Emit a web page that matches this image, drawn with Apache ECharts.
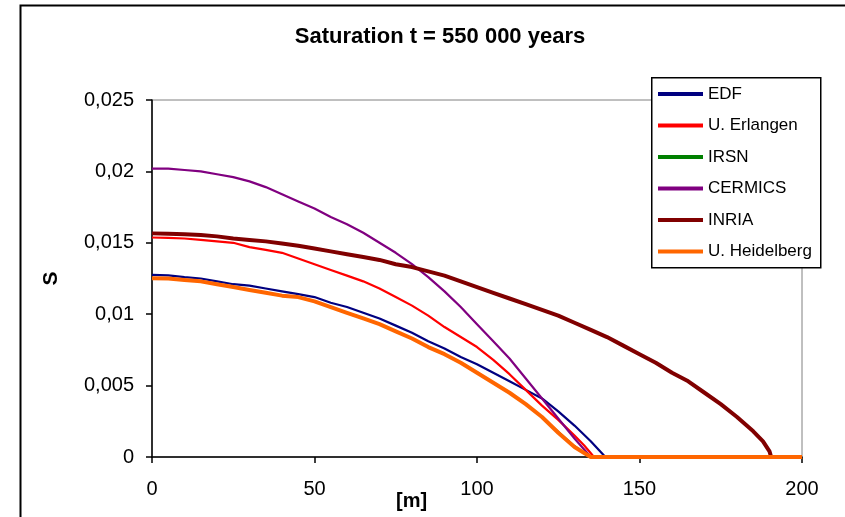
<!DOCTYPE html>
<html>
<head>
<meta charset="utf-8">
<script src="https://cdn.jsdelivr.net/npm/echarts@6/dist/echarts.min.js"></script>
<style>
html,body{margin:0;padding:0;background:#fff;}
#chart{width:845px;height:517px;}
</style>
</head>
<body>
<div id="chart"></div>
<script>
var titleText = 'Saturation t = 550 000 years';
var seriesNames = ['EDF', 'U. Erlangen', 'IRSN', 'CERMICS', 'INRIA', 'U. Heidelberg'];
var xTicks = [0, 50, 100, 150, 200];

var edfX = [0,5,10,15,20,25,30,35,40,45,50,55,60,65,70,75,80,85,90,95,100,105,110,115,120,125,130,135,139.5,200];
var edfY = [0.01276,0.01272,0.0126,0.0125,0.0123,0.0121,0.0120,0.0118,0.0116,0.0114,0.0112,0.0108,0.0105,0.0101,0.0097,0.0092,0.0087,0.0081,0.0076,0.0070,0.0065,0.0059,0.0053,0.0047,0.0041,0.0032,0.0022,0.0011,0,0];

var erlX = [0,5,10,15,20,25,30,35,40,45,50,55,60,65,70,75,80,85,90,95,100,105,110,115,120,125,130,133,136,200];
var erlY = [0.01537,0.01535,0.0153,0.0152,0.0151,0.0150,0.0147,0.0145,0.0143,0.0139,0.0135,0.0131,0.0127,0.0123,0.0118,0.0112,0.0106,0.0099,0.0091,0.0084,0.0077,0.0068,0.0058,0.0047,0.0036,0.0026,0.0015,0.0008,0,0];

var irsnX = [0,5,10,15,20,25,30,35,40,45,50,55,60,65,70,75,80,85,90,95,100,105,110,115,120,125,130,135,200];
var irsnY = [0.01253,0.0125,0.0124,0.0123,0.0121,0.0119,0.0117,0.0115,0.0113,0.0112,0.0109,0.0105,0.0101,0.0097,0.0093,0.0088,0.0083,0.0077,0.0072,0.0066,0.0059,0.0052,0.0045,0.0037,0.0028,0.0018,0.0008,0,0];

var cerX = [0,5,10,15,20,25,30,35,40,45,50,55,60,65,70,75,80,85,90,95,100,105,110,115,120,125,130,135,200];
var cerY = [0.0202,0.0202,0.0201,0.0200,0.0198,0.0196,0.0193,0.0189,0.0184,0.0179,0.0174,0.0168,0.0163,0.0157,0.0150,0.0143,0.0135,0.0126,0.0116,0.0105,0.0093,0.0081,0.0069,0.0055,0.0041,0.0027,0.0013,0,0];

var inriaX = [0,5,10,15,20,25,30,35,40,45,50,55,60,65,70,75,80,85,90,95,100,105,110,115,120,125,130,135,140,145,150,155,160,165,170,175,180,185,188,190,190.5,200];
var inriaY = [0.01566,0.01563,0.0156,0.01555,0.01545,0.0153,0.0152,0.0151,0.01495,0.0148,0.0146,0.0144,0.0142,0.0140,0.0138,0.0135,0.0133,0.0130,0.0127,0.0123,0.0119,0.0115,0.0111,0.0107,0.0103,0.0099,0.0094,0.0089,0.0084,0.0078,0.0072,0.0066,0.0059,0.0053,0.0045,0.0037,0.0028,0.0018,0.0011,0.0004,0,0];

var heiX = [0,5,10,15,20,25,30,35,40,45,50,55,60,65,70,75,80,85,90,95,100,105,110,115,120,125,130,135,200];
var heiY = [0.01252,0.0125,0.0124,0.0123,0.0121,0.0119,0.0117,0.0115,0.0113,0.0112,0.0109,0.0105,0.0101,0.0097,0.0093,0.0088,0.0083,0.0077,0.0072,0.0066,0.0059,0.0052,0.0045,0.0037,0.0028,0.0017,0.0007,0,0];

var seriesXs = [edfX, erlX, irsnX, cerX, inriaX, heiX];
var seriesYs = [edfY, erlY, irsnY, cerY, inriaY, heiY];
var colors = ['#000080', '#FF0000', '#008000', '#800080', '#800000', '#FF6600'];
var widths = [2.2, 2.2, 1.2, 2.2, 4, 4];

function pairs(xs, ys) { return xs.map(function (x, i) { return [x, ys[i]]; }); }

var FONT = "'Liberation Sans', Arial, sans-serif";

var chart = echarts.init(document.getElementById('chart'), null, {renderer: 'canvas'});
var option = {
  animation: false,
  backgroundColor: '#ffffff',
  color: colors,
  title: {
    text: titleText,
    left: 435, top: 21, textAlign: 'center',
    textStyle: {fontFamily: FONT, fontWeight: 'bold', fontSize: 22, color: '#000'}
  },
  grid: {
    left: 152, top: 100, right: 43, bottom: 60,
    show: true, borderColor: '#808080', borderWidth: 1, backgroundColor: 'transparent'
  },
  xAxis: {
    type: 'value', min: 0, max: 200, interval: 50,
    axisLine: {show: true, onZero: false, lineStyle: {color: '#000', width: 1.5}},
    axisTick: {show: true, inside: false, length: 6, lineStyle: {color: '#000', width: 1.5}},
    axisLabel: {margin: 22, fontFamily: FONT, fontSize: 20, color: '#000'},
    splitLine: {show: false}
  },
  yAxis: {
    type: 'value', min: 0, max: 0.025, interval: 0.005,
    name: 'S', nameLocation: 'middle', nameGap: 90, nameRotate: 90,
    nameTextStyle: {fontFamily: FONT, fontWeight: 'bold', fontSize: 21, color: '#000'},
    axisLine: {show: true, lineStyle: {color: '#000', width: 1.5}},
    axisTick: {show: true, inside: false, length: 6, lineStyle: {color: '#000', width: 1.5}},
    axisLabel: {margin: 18, fontFamily: FONT, fontSize: 20, color: '#000',
      formatter: function (v) { return parseFloat(v.toFixed(4)).toString().replace('.', ','); }},
    splitLine: {show: false}
  },
  legend: {
    orient: 'vertical', left: 653, top: 79, z: 20,
    itemWidth: 45, itemHeight: 4, itemGap: 11.5, icon: 'rect',
    textStyle: {fontFamily: FONT, fontSize: 17, color: '#000', lineHeight: 20},
    data: seriesNames
  },
  graphic: [
    {type: 'rect', left: 18, top: 3, z: -10, silent: true,
      shape: {width: 900, height: 600}, style: {fill: 'none', stroke: '#000', lineWidth: 2}},
    {type: 'rect', left: 651, top: 77, z: 10, silent: true,
      shape: {width: 169, height: 190}, style: {fill: '#fff', stroke: '#000', lineWidth: 1.5}},
    {type: 'text', left: 396, top: 491, z: 10, silent: true,
      style: {text: '[m]', fontFamily: FONT, fontWeight: 'bold', fontSize: 20, fill: '#000'}}
  ],
  series: seriesNames.map(function (n, i) {
    return {
      name: n, type: 'line', showSymbol: false, symbol: 'none', clip: true,
      data: pairs(seriesXs[i], seriesYs[i]),
      lineStyle: {color: colors[i], width: widths[i]},
      itemStyle: {color: colors[i]},
      z: 2 + i
    };
  })
};
chart.setOption(option);
</script>
</body>
</html>
